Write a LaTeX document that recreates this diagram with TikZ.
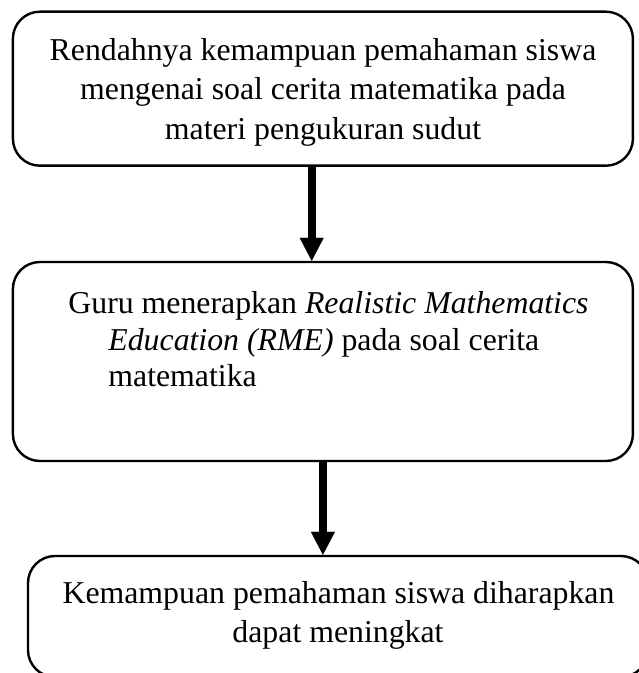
\documentclass[tikz,border=0pt]{standalone}
\usepackage{fontspec}
\setmainfont{Liberation Serif}
\usetikzlibrary{arrows.meta}
\begin{document}
\begin{tikzpicture}[x=0.5pt,y=-0.5pt,
  box/.style={draw=black,line width=1.2pt,rounded corners=13.5pt,rectangle,inner sep=0pt},
  txt/.style={inner sep=0pt,anchor=base,font=\fontsize{15.9}{19}\selectfont},
  txtl/.style={txt,anchor=base west},
  arr/.style={line width=4pt,-{Triangle[width=12pt,length=11.5pt,line width=0.1pt]}}]
\useasboundingbox (0,0) rectangle (638,673);
% boxes
\node[box,minimum width=310pt,minimum height=77pt] (b1) at (322.9,88.7) {};
\node[box,minimum width=310pt,minimum height=99.5pt] (b2) at (322.9,361.5) {};
\node[box,minimum width=310pt,minimum height=60.5pt] (b3) at (338,616.5) {};
% texts box 1
\node[txt] (t11) at (323,61) {Rendahnya kemampuan pemahaman siswa};
\node[txt] (t12) at (323,100) {mengenai soal cerita matematika pada};
\node[txt] (t13) at (323,139.5) {materi pengukuran sudut};
% texts box 2
\node[txtl] (t21) at (68,313) {Guru menerapkan \textit{Realistic Mathematics}};
\node[txtl] (t22) at (108,350) {\textit{Education (RME)} pada soal cerita};
\node[txtl] (t23) at (108,386) {matematika};
% texts box 3
\node[txt] (t31) at (338.5,603) {Kemampuan pemahaman siswa diharapkan};
\node[txt] (t32) at (338,642) {dapat meningkat};
% arrows
\draw[arr] ([xshift=-5.6pt]b1.south) -- ([xshift=-5.6pt]b2.north);
\draw[arr] (b2.south) -- (b2.south |- b3.north);
\end{tikzpicture}
\end{document}
